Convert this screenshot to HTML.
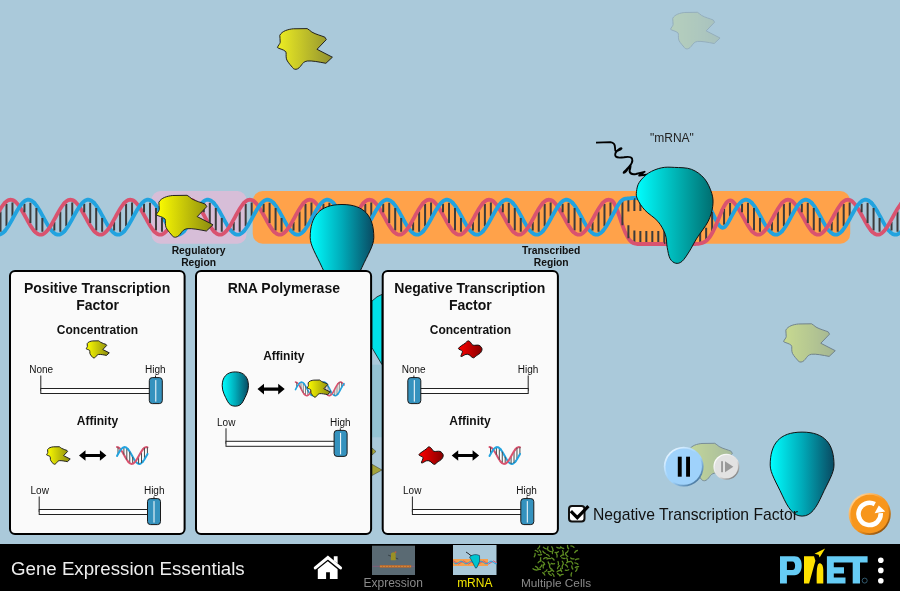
<!DOCTYPE html><html><head><meta charset="utf-8"><style>html,body{margin:0;padding:0;width:900px;height:591px;overflow:hidden;background:#aac9da}svg{display:block;will-change:transform}text{font-family:"Liberation Sans",sans-serif}</style></head><body>
<svg width="900" height="591" viewBox="0 0 900 591">
<defs>
<linearGradient id="gY" x1="0" y1="0" x2="1" y2="0"><stop offset="0" stop-color="#ffff00"/><stop offset="1" stop-color="#8a8a10"/></linearGradient>
<linearGradient id="gY2" x1="0" y1="0" x2="1" y2="0"><stop offset="0" stop-color="#f2f22a"/><stop offset="1" stop-color="#9c9c35"/></linearGradient>
<linearGradient id="gY3" x1="0" y1="0" x2="1" y2="0"><stop offset="0" stop-color="#eeee22"/><stop offset="1" stop-color="#909030"/></linearGradient>
<linearGradient id="gR" x1="0" y1="0" x2="1" y2="0"><stop offset="0" stop-color="#ff0000"/><stop offset="1" stop-color="#850000"/></linearGradient>
<linearGradient id="gP" x1="0" y1="0" x2="1" y2="0"><stop offset="0" stop-color="#00ffff"/><stop offset="0.5" stop-color="#00abb9"/><stop offset="1" stop-color="#094a62"/></linearGradient>
<linearGradient id="gPB" gradientUnits="userSpaceOnUse" x1="636" y1="0" x2="713" y2="0"><stop offset="0" stop-color="#00ffff"/><stop offset="1" stop-color="#006e70"/></linearGradient>
<radialGradient id="gPause" cx="0.42" cy="0.38" r="0.62"><stop offset="0.75" stop-color="#9fd2fb"/><stop offset="0.93" stop-color="#7fb2df"/><stop offset="1" stop-color="#4f7fa8"/></radialGradient>
<radialGradient id="gStep" cx="0.42" cy="0.38" r="0.62"><stop offset="0.72" stop-color="#e4e4e4"/><stop offset="0.92" stop-color="#c4c4c4"/><stop offset="1" stop-color="#8c8c8c"/></radialGradient>
<radialGradient id="gReset" cx="0.42" cy="0.38" r="0.62"><stop offset="0.74" stop-color="#f7961f"/><stop offset="0.93" stop-color="#e08515"/><stop offset="1" stop-color="#9c5c10"/></radialGradient>
<linearGradient id="rimReset" x1="0.15" y1="0.1" x2="0.85" y2="0.9"><stop offset="0" stop-color="#ffd39a"/><stop offset="0.45" stop-color="#f7961f"/><stop offset="0.6" stop-color="#f7961f"/><stop offset="1" stop-color="#8a500f"/></linearGradient>
<linearGradient id="rimPause" x1="0.15" y1="0.1" x2="0.85" y2="0.9"><stop offset="0" stop-color="#e8f5ff"/><stop offset="0.45" stop-color="#9fd2fb"/><stop offset="0.6" stop-color="#9fd2fb"/><stop offset="1" stop-color="#45739a"/></linearGradient>
<linearGradient id="rimStep" x1="0.15" y1="0.1" x2="0.85" y2="0.9"><stop offset="0" stop-color="#ffffff"/><stop offset="0.45" stop-color="#e2e2e2"/><stop offset="0.6" stop-color="#e2e2e2"/><stop offset="1" stop-color="#7c7c7c"/></linearGradient>
<filter id="bl" x="-10%" y="-10%" width="120%" height="120%"><feGaussianBlur stdDeviation="0.7"/></filter>
</defs>
<rect width="900" height="591" fill="#aac9da"/>
<path d="M2.8,6.8 C5,2.5 11,0.8 16.3,0.3 L30.2,0.1 C32,0.8 33,2.5 34.9,3.6 C39,6 44,7 47.9,8.7 L49.3,11.1 L40,20.8 L55.4,28.7 L48.9,34.8 C42,33.5 35,32 30.2,32.5 C27,33 25.5,35 24.7,36.2 C23,38.5 21.5,40.5 19,40.8 C17,40.8 16,40 15.5,39 C12,35 9.5,32 9.3,29.7 C8.8,27 9.5,24.5 8.8,23.2 C6,20.5 2,20.5 0.4,19 C1,17 3,15.5 3.2,13.8 C3.5,11 2.5,9 2.8,6.8 Z" transform="translate(670.20,12.20) scale(0.900)" fill="url(#gY2)" stroke="#222" stroke-width="1" vector-effect="non-scaling-stroke" opacity="0.16" />
<path d="M2.8,6.8 C5,2.5 11,0.8 16.3,0.3 L30.2,0.1 C32,0.8 33,2.5 34.9,3.6 C39,6 44,7 47.9,8.7 L49.3,11.1 L40,20.8 L55.4,28.7 L48.9,34.8 C42,33.5 35,32 30.2,32.5 C27,33 25.5,35 24.7,36.2 C23,38.5 21.5,40.5 19,40.8 C17,40.8 16,40 15.5,39 C12,35 9.5,32 9.3,29.7 C8.8,27 9.5,24.5 8.8,23.2 C6,20.5 2,20.5 0.4,19 C1,17 3,15.5 3.2,13.8 C3.5,11 2.5,9 2.8,6.8 Z" transform="translate(277.00,28.50) scale(1.000)" fill="url(#gY3)" stroke="#222" stroke-width="1" vector-effect="non-scaling-stroke" opacity="1.00" />
<rect x="151.5" y="191" width="95" height="52.7" rx="9" fill="#d7bed8"/>
<rect x="252.7" y="191" width="597.5" height="52.7" rx="10" fill="#ffa24a"/>
<g fill="none" stroke-width="3.8" stroke-linecap="round"><path d="M-5.00,233.53 L-4.00,234.10 L-3.00,234.48 L-2.00,234.68 L-1.00,234.68 L0.00,234.48 L1.00,234.10 L2.00,233.53 L3.00,232.78 L4.00,231.86 L4.60,231.23" stroke="#22a3df"/><path d="M4.60,203.17 L5.60,202.15 L6.60,201.30 L7.60,200.62 L8.60,200.12 L9.60,199.82 L10.60,199.70 L11.60,199.78 L12.60,200.05 L13.60,200.51 L14.60,201.15 L15.60,201.97 L16.60,202.96 L17.60,204.10 L18.60,205.39 L19.60,206.81 L20.60,208.34 L21.60,209.98 L22.60,211.69 L23.60,213.46 L24.60,215.27 L25.60,217.11 L26.60,218.94 L27.60,220.76 L28.60,222.54 L29.60,224.26 L30.60,225.90 L31.60,227.44 L32.60,228.87 L33.60,230.18 L34.50,231.23" stroke="#d9536f"/><path d="M34.50,203.17 L35.50,204.35 L36.50,205.66 L37.50,207.11 L38.50,208.66 L39.50,210.31 L40.50,212.04 L41.50,213.82 L42.50,215.64 L43.50,217.48 L44.50,219.31 L45.50,221.12 L46.50,222.89 L47.50,224.59 L48.50,226.21 L49.50,227.74 L50.50,229.14 L51.50,230.42 L52.50,231.55 L53.50,232.52 L54.50,233.32 L55.50,233.95 L56.50,234.39 L57.50,234.64 L58.50,234.70 L59.50,234.56 L60.50,234.23 L61.50,233.72 L62.50,233.02 L63.50,232.15 L64.40,231.23" stroke="#22a3df"/><path d="M64.40,203.17 L65.40,202.15 L66.40,201.30 L67.40,200.62 L68.40,200.12 L69.40,199.82 L70.40,199.70 L71.40,199.78 L72.40,200.05 L73.40,200.51 L74.40,201.15 L75.40,201.97 L76.40,202.96 L77.40,204.10 L78.40,205.39 L79.40,206.81 L80.40,208.34 L81.40,209.98 L82.40,211.69 L83.40,213.46 L84.40,215.27 L85.40,217.11 L86.40,218.94 L87.40,220.76 L88.40,222.54 L89.40,224.26 L90.40,225.90 L91.40,227.44 L92.40,228.87 L93.40,230.18 L94.30,231.23" stroke="#d9536f"/><path d="M94.30,203.17 L95.30,204.35 L96.30,205.66 L97.30,207.11 L98.30,208.66 L99.30,210.31 L100.30,212.04 L101.30,213.82 L102.30,215.64 L103.30,217.48 L104.30,219.31 L105.30,221.12 L106.30,222.89 L107.30,224.59 L108.30,226.21 L109.30,227.74 L110.30,229.14 L111.30,230.42 L112.30,231.55 L113.30,232.52 L114.30,233.32 L115.30,233.95 L116.30,234.39 L117.30,234.64 L118.30,234.70 L119.30,234.56 L120.30,234.23 L121.30,233.72 L122.30,233.02 L123.30,232.15 L124.20,231.23" stroke="#22a3df"/><path d="M124.20,203.17 L125.20,202.15 L126.20,201.30 L127.20,200.62 L128.20,200.12 L129.20,199.82 L130.20,199.70 L131.20,199.78 L132.20,200.05 L133.20,200.51 L134.20,201.15 L135.20,201.97 L136.20,202.96 L137.20,204.10 L138.20,205.39 L139.20,206.81 L140.20,208.34 L141.20,209.98 L142.20,211.69 L143.20,213.46 L144.20,215.27 L145.20,217.11 L146.20,218.94 L147.20,220.76 L148.20,222.54 L149.20,224.26 L150.20,225.90 L151.20,227.44 L152.20,228.87 L153.20,230.18 L154.10,231.23" stroke="#d9536f"/><path d="M154.10,203.17 L155.10,204.35 L156.10,205.66 L157.10,207.11 L158.10,208.66 L159.10,210.31 L160.10,212.04 L161.10,213.82 L162.10,215.64 L163.10,217.48 L164.10,219.31 L165.10,221.12 L166.10,222.89 L167.10,224.59 L168.10,226.21 L169.10,227.74 L170.10,229.14 L171.10,230.42 L172.10,231.55 L173.10,232.52 L174.10,233.32 L175.10,233.95 L176.10,234.39 L177.10,234.64 L178.10,234.70 L179.10,234.56 L180.10,234.23 L181.10,233.72 L182.10,233.02 L183.10,232.15 L184.00,231.23" stroke="#22a3df"/><path d="M184.00,203.17 L185.00,202.15 L186.00,201.30 L187.00,200.62 L188.00,200.12 L189.00,199.82 L190.00,199.70 L191.00,199.78 L192.00,200.05 L193.00,200.51 L194.00,201.15 L195.00,201.97 L196.00,202.96 L197.00,204.10 L198.00,205.39 L199.00,206.81 L200.00,208.34 L201.00,209.98 L202.00,211.69 L203.00,213.46 L204.00,215.27 L205.00,217.11 L206.00,218.94 L207.00,220.76 L208.00,222.54 L209.00,224.26 L210.00,225.90 L211.00,227.44 L212.00,228.87 L213.00,230.18 L213.90,231.23" stroke="#d9536f"/><path d="M213.90,203.17 L214.90,204.35 L215.90,205.66 L216.90,207.11 L217.90,208.66 L218.90,210.31 L219.90,212.04 L220.90,213.82 L221.90,215.64 L222.90,217.48 L223.90,219.31 L224.90,221.12 L225.90,222.89 L226.90,224.59 L227.90,226.21 L228.90,227.74 L229.90,229.14 L230.90,230.42 L231.90,231.55 L232.90,232.52 L233.90,233.32 L234.90,233.95 L235.90,234.39 L236.90,234.64 L237.90,234.70 L238.90,234.56 L239.90,234.23 L240.90,233.72 L241.90,233.02 L242.90,232.15 L243.80,231.23" stroke="#22a3df"/><path d="M243.80,203.17 L244.80,202.15 L245.80,201.30 L246.80,200.62 L247.80,200.12 L248.80,199.82 L249.80,199.70 L250.80,199.78 L251.80,200.05 L252.80,200.51 L253.80,201.15 L254.80,201.97 L255.80,202.96 L256.80,204.10 L257.80,205.39 L258.80,206.81 L259.80,208.34 L260.80,209.98 L261.80,211.69 L262.80,213.46 L263.80,215.27 L264.80,217.11 L265.80,218.94 L266.80,220.76 L267.80,222.54 L268.80,224.26 L269.80,225.90 L270.80,227.44 L271.80,228.87 L272.80,230.18 L273.70,231.23" stroke="#d9536f"/><path d="M273.70,203.17 L274.70,204.35 L275.70,205.66 L276.70,207.11 L277.70,208.66 L278.70,210.31 L279.70,212.04 L280.70,213.82 L281.70,215.64 L282.70,217.48 L283.70,219.31 L284.70,221.12 L285.70,222.89 L286.70,224.59 L287.70,226.21 L288.70,227.74 L289.70,229.14 L290.70,230.42 L291.70,231.55 L292.70,232.52 L293.70,233.32 L294.70,233.95 L295.70,234.39 L296.70,234.64 L297.70,234.70 L298.70,234.56 L299.70,234.23 L300.70,233.72 L301.70,233.02 L302.70,232.15 L303.60,231.23" stroke="#22a3df"/><path d="M303.60,203.17 L304.60,202.15 L305.60,201.30 L306.60,200.62 L307.60,200.12 L308.60,199.82 L309.60,199.70 L310.60,199.78 L311.60,200.05 L312.60,200.51 L313.60,201.15 L314.60,201.97 L315.60,202.96 L316.60,204.10 L317.60,205.39 L318.60,206.81 L319.60,208.34 L320.60,209.98 L321.60,211.69 L322.60,213.46 L323.60,215.27 L324.60,217.11 L325.60,218.94 L326.60,220.76 L327.60,222.54 L328.60,224.26 L329.60,225.90 L330.60,227.44 L331.60,228.87 L332.60,230.18 L333.50,231.23" stroke="#d9536f"/><path d="M333.50,203.17 L334.50,204.35 L335.50,205.66 L336.50,207.11 L337.50,208.66 L338.50,210.31 L339.50,212.04 L340.50,213.82 L341.50,215.64 L342.50,217.48 L343.50,219.31 L344.50,221.12 L345.50,222.89 L346.50,224.59 L347.50,226.21 L348.50,227.74 L349.50,229.14 L350.50,230.42 L351.50,231.55 L352.50,232.52 L353.50,233.32 L354.50,233.95 L355.50,234.39 L356.50,234.64 L357.50,234.70 L358.50,234.56 L359.50,234.23 L360.50,233.72 L361.50,233.02 L362.50,232.15 L363.40,231.23" stroke="#22a3df"/><path d="M363.40,203.17 L364.40,202.15 L365.40,201.30 L366.40,200.62 L367.40,200.12 L368.40,199.82 L369.40,199.70 L370.40,199.78 L371.40,200.05 L372.40,200.51 L373.40,201.15 L374.40,201.97 L375.40,202.96 L376.40,204.10 L377.40,205.39 L378.40,206.81 L379.40,208.34 L380.40,209.98 L381.40,211.69 L382.40,213.46 L383.40,215.27 L384.40,217.11 L385.40,218.94 L386.40,220.76 L387.40,222.54 L388.40,224.26 L389.40,225.90 L390.40,227.44 L391.40,228.87 L392.40,230.18 L393.30,231.23" stroke="#d9536f"/><path d="M393.30,203.17 L394.30,204.35 L395.30,205.66 L396.30,207.11 L397.30,208.66 L398.30,210.31 L399.30,212.04 L400.30,213.82 L401.30,215.64 L402.30,217.48 L403.30,219.31 L404.30,221.12 L405.30,222.89 L406.30,224.59 L407.30,226.21 L408.30,227.74 L409.30,229.14 L410.30,230.42 L411.30,231.55 L412.30,232.52 L413.30,233.32 L414.30,233.95 L415.30,234.39 L416.30,234.64 L417.30,234.70 L418.30,234.56 L419.30,234.23 L420.30,233.72 L421.30,233.02 L422.30,232.15 L423.20,231.23" stroke="#22a3df"/><path d="M423.20,203.17 L424.20,202.15 L425.20,201.30 L426.20,200.62 L427.20,200.12 L428.20,199.82 L429.20,199.70 L430.20,199.78 L431.20,200.05 L432.20,200.51 L433.20,201.15 L434.20,201.97 L435.20,202.96 L436.20,204.10 L437.20,205.39 L438.20,206.81 L439.20,208.34 L440.20,209.98 L441.20,211.69 L442.20,213.46 L443.20,215.27 L444.20,217.11 L445.20,218.94 L446.20,220.76 L447.20,222.54 L448.20,224.26 L449.20,225.90 L450.20,227.44 L451.20,228.87 L452.20,230.18 L453.10,231.23" stroke="#d9536f"/><path d="M453.10,203.17 L454.10,204.35 L455.10,205.66 L456.10,207.11 L457.10,208.66 L458.10,210.31 L459.10,212.04 L460.10,213.82 L461.10,215.64 L462.10,217.48 L463.10,219.31 L464.10,221.12 L465.10,222.89 L466.10,224.59 L467.10,226.21 L468.10,227.74 L469.10,229.14 L470.10,230.42 L471.10,231.55 L472.10,232.52 L473.10,233.32 L474.10,233.95 L475.10,234.39 L476.10,234.64 L477.10,234.70 L478.10,234.56 L479.10,234.23 L480.10,233.72 L481.10,233.02 L482.10,232.15 L483.00,231.23" stroke="#22a3df"/><path d="M483.00,203.17 L484.00,202.15 L485.00,201.30 L486.00,200.62 L487.00,200.12 L488.00,199.82 L489.00,199.70 L490.00,199.78 L491.00,200.05 L492.00,200.51 L493.00,201.15 L494.00,201.97 L495.00,202.96 L496.00,204.10 L497.00,205.39 L498.00,206.81 L499.00,208.34 L500.00,209.98 L501.00,211.69 L502.00,213.46 L503.00,215.27 L504.00,217.11 L505.00,218.94 L506.00,220.76 L507.00,222.54 L508.00,224.26 L509.00,225.90 L510.00,227.44 L511.00,228.87 L512.00,230.18 L512.90,231.23" stroke="#d9536f"/><path d="M512.90,203.17 L513.90,204.35 L514.90,205.66 L515.90,207.11 L516.90,208.66 L517.90,210.31 L518.90,212.04 L519.90,213.82 L520.90,215.64 L521.90,217.48 L522.90,219.31 L523.90,221.12 L524.90,222.89 L525.90,224.59 L526.90,226.21 L527.90,227.74 L528.90,229.14 L529.90,230.42 L530.90,231.55 L531.90,232.52 L532.90,233.32 L533.90,233.95 L534.90,234.39 L535.90,234.64 L536.90,234.70 L537.90,234.56 L538.90,234.23 L539.90,233.72 L540.90,233.02 L541.90,232.15 L542.80,231.23" stroke="#22a3df"/><path d="M542.80,203.17 L543.80,202.15 L544.80,201.30 L545.80,200.62 L546.80,200.12 L547.80,199.82 L548.80,199.70 L549.80,199.78 L550.80,200.05 L551.80,200.51 L552.80,201.15 L553.80,201.97 L554.80,202.96 L555.80,204.10 L556.80,205.39 L557.80,206.81 L558.80,208.34 L559.80,209.98 L560.80,211.69 L561.80,213.46 L562.80,215.27 L563.80,217.11 L564.80,218.94 L565.80,220.76 L566.80,222.54 L567.80,224.26 L568.80,225.90 L569.80,227.44 L570.80,228.87 L571.80,230.18 L572.70,231.23" stroke="#d9536f"/><path d="M572.70,203.17 L573.70,204.35 L574.70,205.66 L575.70,207.11 L576.70,208.66 L577.70,210.31 L578.70,212.04 L579.70,213.82 L580.70,215.64 L581.70,217.48 L582.70,219.31 L583.70,221.12 L584.70,222.89 L585.70,224.59 L586.70,226.21 L587.70,227.74 L588.70,229.14 L589.70,230.42 L590.70,231.55 L591.70,232.52 L592.70,233.32 L593.70,233.95 L594.70,234.39 L595.70,234.64 L596.70,234.70 L597.70,234.56 L598.70,234.23 L599.70,233.72 L600.70,233.02 L601.70,232.15 L602.60,231.23" stroke="#22a3df"/><path d="M602.60,203.17 L603.60,202.15 L604.60,201.30 L605.60,200.62 L606.60,200.12 L607.60,199.82 L608.60,199.70 L609.60,199.78 L610.60,200.05 L611.60,200.51 L612.60,201.22 L613.60,202.43 L614.60,204.11 L615.60,206.18 L616.60,208.59 L617.60,211.24 L618.60,214.07 L619.60,217.00 L620.60,219.95 L621.60,222.88 L622.60,225.70 L623.60,228.39 L624.60,230.89 L625.60,233.18 L626.60,235.24 L627.60,237.05 L628.60,238.61 L629.60,239.93 L630.60,241.02 L631.60,241.90 L632.50,242.53" stroke="#d9536f"/><path d="M632.50,198.08 L633.50,198.01 L634.50,198.00 L635.50,198.00 L636.50,198.00 L637.50,198.00 L638.50,198.00 L639.50,198.00 L640.50,198.00 L641.50,198.00 L642.50,198.00 L643.50,198.00 L644.50,198.00 L645.50,198.00 L646.50,198.00 L647.50,198.00 L648.50,198.00 L649.50,198.00 L650.50,198.00 L651.50,198.00 L652.50,198.00 L653.50,198.00 L654.50,198.00 L655.50,198.00 L656.50,198.00 L657.50,198.00 L658.50,198.00 L659.50,198.00 L660.50,198.00 L661.50,198.00 L662.40,198.00" stroke="#22a3df"/><path d="M662.40,244.00 L663.40,244.00 L664.40,244.00 L665.40,244.00 L666.40,244.00 L667.40,244.00 L668.40,244.00 L669.40,244.00 L670.40,244.00 L671.40,244.00 L672.40,244.00 L673.40,244.00 L674.40,244.00 L675.40,244.00 L676.40,244.00 L677.40,244.00 L678.40,244.00 L679.40,244.00 L680.40,244.00 L681.40,244.00 L682.40,244.00 L683.40,244.00 L684.40,244.00 L685.40,244.00 L686.40,244.00 L687.40,244.00 L688.40,244.00 L689.40,244.00 L690.40,244.00 L691.40,244.00 L692.30,244.00" stroke="#d9536f"/><path d="M692.30,198.00 L693.30,198.00 L694.30,198.00 L695.30,198.00 L696.30,198.00 L697.30,198.00 L698.30,198.00 L699.30,198.00 L700.30,198.01 L701.30,198.12 L702.30,198.41 L703.30,198.89 L704.30,199.58 L705.30,200.50 L706.30,201.64 L707.30,203.01 L708.30,204.59 L709.30,206.35 L710.30,208.28 L711.30,210.33 L712.30,212.46 L713.30,214.63 L714.30,216.78 L715.30,218.86 L716.30,220.83 L717.30,222.62 L718.30,224.20 L719.30,225.52 L720.30,226.53 L721.30,227.22 L722.20,227.54" stroke="#22a3df"/><path d="M722.20,210.25 L723.20,208.13 L724.20,206.19 L725.20,204.48 L726.20,203.02 L727.20,201.85 L728.20,201.01 L729.20,200.50 L730.20,200.35 L731.20,200.57 L732.20,201.15 L733.20,201.97 L734.20,202.96 L735.20,204.10 L736.20,205.39 L737.20,206.81 L738.20,208.34 L739.20,209.98 L740.20,211.69 L741.20,213.46 L742.20,215.27 L743.20,217.11 L744.20,218.94 L745.20,220.76 L746.20,222.54 L747.20,224.26 L748.20,225.90 L749.20,227.44 L750.20,228.87 L751.20,230.18 L752.10,231.23" stroke="#d9536f"/><path d="M752.10,203.17 L753.10,204.35 L754.10,205.66 L755.10,207.11 L756.10,208.66 L757.10,210.31 L758.10,212.04 L759.10,213.82 L760.10,215.64 L761.10,217.48 L762.10,219.31 L763.10,221.12 L764.10,222.89 L765.10,224.59 L766.10,226.21 L767.10,227.74 L768.10,229.14 L769.10,230.42 L770.10,231.55 L771.10,232.52 L772.10,233.32 L773.10,233.95 L774.10,234.39 L775.10,234.64 L776.10,234.70 L777.10,234.56 L778.10,234.23 L779.10,233.72 L780.10,233.02 L781.10,232.15 L782.00,231.23" stroke="#22a3df"/><path d="M782.00,203.17 L783.00,202.15 L784.00,201.30 L785.00,200.62 L786.00,200.12 L787.00,199.82 L788.00,199.70 L789.00,199.78 L790.00,200.05 L791.00,200.51 L792.00,201.15 L793.00,201.97 L794.00,202.96 L795.00,204.10 L796.00,205.39 L797.00,206.81 L798.00,208.34 L799.00,209.98 L800.00,211.69 L801.00,213.46 L802.00,215.27 L803.00,217.11 L804.00,218.94 L805.00,220.76 L806.00,222.54 L807.00,224.26 L808.00,225.90 L809.00,227.44 L810.00,228.87 L811.00,230.18 L811.90,231.23" stroke="#d9536f"/><path d="M811.90,203.17 L812.90,204.35 L813.90,205.66 L814.90,207.11 L815.90,208.66 L816.90,210.31 L817.90,212.04 L818.90,213.82 L819.90,215.64 L820.90,217.48 L821.90,219.31 L822.90,221.12 L823.90,222.89 L824.90,224.59 L825.90,226.21 L826.90,227.74 L827.90,229.14 L828.90,230.42 L829.90,231.55 L830.90,232.52 L831.90,233.32 L832.90,233.95 L833.90,234.39 L834.90,234.64 L835.90,234.70 L836.90,234.56 L837.90,234.23 L838.90,233.72 L839.90,233.02 L840.90,232.15 L841.80,231.23" stroke="#22a3df"/><path d="M841.80,203.17 L842.80,202.15 L843.80,201.30 L844.80,200.62 L845.80,200.12 L846.80,199.82 L847.80,199.70 L848.80,199.78 L849.80,200.05 L850.80,200.51 L851.80,201.15 L852.80,201.97 L853.80,202.96 L854.80,204.10 L855.80,205.39 L856.80,206.81 L857.80,208.34 L858.80,209.98 L859.80,211.69 L860.80,213.46 L861.80,215.27 L862.80,217.11 L863.80,218.94 L864.80,220.76 L865.80,222.54 L866.80,224.26 L867.80,225.90 L868.80,227.44 L869.80,228.87 L870.80,230.18 L871.70,231.23" stroke="#d9536f"/><path d="M871.70,203.17 L872.70,204.35 L873.70,205.66 L874.70,207.11 L875.70,208.66 L876.70,210.31 L877.70,212.04 L878.70,213.82 L879.70,215.64 L880.70,217.48 L881.70,219.31 L882.70,221.12 L883.70,222.89 L884.70,224.59 L885.70,226.21 L886.70,227.74 L887.70,229.14 L888.70,230.42 L889.70,231.55 L890.70,232.52 L891.70,233.32 L892.70,233.95 L893.70,234.39 L894.70,234.64 L895.70,234.70 L896.70,234.56 L897.70,234.23 L898.70,233.72 L899.70,233.02 L900.70,232.15 L901.60,231.23" stroke="#22a3df"/><path d="M901.60,203.17 L902.60,202.15 L903.60,201.30 L904.60,200.62 L905.00,200.40" stroke="#d9536f"/></g><path d="M0.50,211.42V231.72M6.48,203.99V226.30M12.46,202.60V216.42M24.42,203.81V212.34M30.40,202.68V222.98M36.38,208.10V230.41M42.36,217.98V231.80M54.32,222.06V230.59M60.30,211.42V231.72M66.28,203.99V226.30M72.26,202.60V216.42M84.22,203.81V212.34M90.20,202.68V222.98M96.18,208.10V230.41M102.16,217.98V231.80M114.12,222.06V230.59M120.10,211.42V231.72M126.08,203.99V226.30M132.06,202.60V216.42M144.02,203.81V212.34M150.00,202.68V222.98M155.98,208.10V230.41M161.96,217.98V231.80M173.92,222.06V230.59M179.90,211.42V231.72M185.88,203.99V226.30M191.86,202.60V216.42M203.82,203.81V212.34M209.80,202.68V222.98M215.78,208.10V230.41M221.76,217.98V231.80M233.72,222.06V230.59M239.70,211.42V231.72M245.68,203.99V226.30M251.66,202.60V216.42M263.62,203.81V212.34M269.60,202.68V222.98M275.58,208.10V230.41M281.56,217.98V231.80M293.52,222.06V230.59M299.50,211.42V231.72M305.48,203.99V226.30M311.46,202.60V216.42M323.42,203.81V212.34M329.40,202.68V222.98M335.38,208.10V230.41M341.36,217.98V231.80M353.32,222.06V230.59M359.30,211.42V231.72M365.28,203.99V226.30M371.26,202.60V216.42M383.22,203.81V212.34M389.20,202.68V222.98M395.18,208.10V230.41M401.16,217.98V231.80M413.12,222.06V230.59M419.10,211.42V231.72M425.08,203.99V226.30M431.06,202.60V216.42M443.02,203.81V212.34M449.00,202.68V222.98M454.98,208.10V230.41M460.96,217.98V231.80M472.92,222.06V230.59M478.90,211.42V231.72M484.88,203.99V226.30M490.86,202.60V216.42M502.82,203.81V212.34M508.80,202.68V222.98M514.78,208.10V230.41M520.76,217.98V231.80M532.72,222.06V230.59M538.70,211.42V231.72M544.68,203.99V226.30M550.66,202.60V216.42M562.62,203.81V212.34M568.60,202.68V222.98M574.58,208.10V230.41M580.56,217.98V231.80M592.52,222.06V230.59M598.50,211.42V231.72M604.48,203.99V226.30M610.46,202.60V216.42M622.42,199.98V212.98M622.42,225.20V212.20M628.40,198.40V211.40M628.40,238.32V225.32M634.38,198.00V211.00M634.38,243.42V230.42M640.36,198.00V211.00M640.36,244.00V231.00M646.34,198.00V211.00M646.34,244.00V231.00M652.32,198.00V211.00M652.32,244.00V231.00M658.30,198.00V211.00M658.30,244.00V231.00M664.28,198.00V211.00M664.28,244.00V231.00M670.26,198.00V211.00M670.26,244.00V231.00M676.24,198.00V211.00M676.24,244.00V231.00M682.22,198.00V211.00M682.22,244.00V231.00M688.20,198.00V211.00M688.20,244.00V231.00M694.18,198.00V211.00M694.18,244.00V231.00M700.16,198.00V211.00M700.16,243.49V230.49M706.14,201.44V214.44M706.14,240.79V227.79M712.12,212.07V225.07M712.12,233.10V220.10M724.08,209.01V224.65M730.06,202.95V216.42M742.02,203.81V212.34M748.00,202.68V222.98M753.98,208.10V230.41M759.96,217.98V231.80M771.92,222.06V230.59M777.90,211.42V231.72M783.88,203.99V226.30M789.86,202.60V216.42M801.82,203.81V212.34M807.80,202.68V222.98M813.78,208.10V230.41M819.76,217.98V231.80M831.72,222.06V230.59M837.70,211.42V231.72M843.68,203.99V226.30M849.66,202.60V216.42M861.62,203.81V212.34M867.60,202.68V222.98M873.58,208.10V230.41M879.56,217.98V231.80M891.52,222.06V230.59M897.50,211.42V231.72M903.48,203.99V226.30" stroke="#3b3b3b" stroke-width="2.0" fill="none"/><g fill="none" stroke-width="3.8" stroke-linecap="round"><path d="M-5.00,218.58 L-4.00,216.74 L-3.00,214.91 L-2.00,213.10 L-1.00,211.34 L0.00,209.64 L1.00,208.03 L2.00,206.52 L3.00,205.12 L4.00,203.86 L4.60,203.17" stroke="#d9536f"/><path d="M4.60,231.23 L5.60,230.05 L6.60,228.74 L7.60,227.29 L8.60,225.74 L9.60,224.09 L10.60,222.36 L11.60,220.58 L12.60,218.76 L13.60,216.92 L14.60,215.09 L15.60,213.28 L16.60,211.51 L17.60,209.81 L18.60,208.19 L19.60,206.66 L20.60,205.26 L21.60,203.98 L22.60,202.85 L23.60,201.88 L24.60,201.08 L25.60,200.45 L26.60,200.01 L27.60,199.76 L28.60,199.70 L29.60,199.84 L30.60,200.17 L31.60,200.68 L32.60,201.38 L33.60,202.25 L34.50,203.17" stroke="#22a3df"/><path d="M34.50,231.23 L35.50,232.25 L36.50,233.10 L37.50,233.78 L38.50,234.28 L39.50,234.58 L40.50,234.70 L41.50,234.62 L42.50,234.35 L43.50,233.89 L44.50,233.25 L45.50,232.43 L46.50,231.44 L47.50,230.30 L48.50,229.01 L49.50,227.59 L50.50,226.06 L51.50,224.42 L52.50,222.71 L53.50,220.94 L54.50,219.13 L55.50,217.29 L56.50,215.46 L57.50,213.64 L58.50,211.86 L59.50,210.14 L60.50,208.50 L61.50,206.96 L62.50,205.53 L63.50,204.22 L64.40,203.17" stroke="#d9536f"/><path d="M64.40,231.23 L65.40,230.05 L66.40,228.74 L67.40,227.29 L68.40,225.74 L69.40,224.09 L70.40,222.36 L71.40,220.58 L72.40,218.76 L73.40,216.92 L74.40,215.09 L75.40,213.28 L76.40,211.51 L77.40,209.81 L78.40,208.19 L79.40,206.66 L80.40,205.26 L81.40,203.98 L82.40,202.85 L83.40,201.88 L84.40,201.08 L85.40,200.45 L86.40,200.01 L87.40,199.76 L88.40,199.70 L89.40,199.84 L90.40,200.17 L91.40,200.68 L92.40,201.38 L93.40,202.25 L94.30,203.17" stroke="#22a3df"/><path d="M94.30,231.23 L95.30,232.25 L96.30,233.10 L97.30,233.78 L98.30,234.28 L99.30,234.58 L100.30,234.70 L101.30,234.62 L102.30,234.35 L103.30,233.89 L104.30,233.25 L105.30,232.43 L106.30,231.44 L107.30,230.30 L108.30,229.01 L109.30,227.59 L110.30,226.06 L111.30,224.42 L112.30,222.71 L113.30,220.94 L114.30,219.13 L115.30,217.29 L116.30,215.46 L117.30,213.64 L118.30,211.86 L119.30,210.14 L120.30,208.50 L121.30,206.96 L122.30,205.53 L123.30,204.22 L124.20,203.17" stroke="#d9536f"/><path d="M124.20,231.23 L125.20,230.05 L126.20,228.74 L127.20,227.29 L128.20,225.74 L129.20,224.09 L130.20,222.36 L131.20,220.58 L132.20,218.76 L133.20,216.92 L134.20,215.09 L135.20,213.28 L136.20,211.51 L137.20,209.81 L138.20,208.19 L139.20,206.66 L140.20,205.26 L141.20,203.98 L142.20,202.85 L143.20,201.88 L144.20,201.08 L145.20,200.45 L146.20,200.01 L147.20,199.76 L148.20,199.70 L149.20,199.84 L150.20,200.17 L151.20,200.68 L152.20,201.38 L153.20,202.25 L154.10,203.17" stroke="#22a3df"/><path d="M154.10,231.23 L155.10,232.25 L156.10,233.10 L157.10,233.78 L158.10,234.28 L159.10,234.58 L160.10,234.70 L161.10,234.62 L162.10,234.35 L163.10,233.89 L164.10,233.25 L165.10,232.43 L166.10,231.44 L167.10,230.30 L168.10,229.01 L169.10,227.59 L170.10,226.06 L171.10,224.42 L172.10,222.71 L173.10,220.94 L174.10,219.13 L175.10,217.29 L176.10,215.46 L177.10,213.64 L178.10,211.86 L179.10,210.14 L180.10,208.50 L181.10,206.96 L182.10,205.53 L183.10,204.22 L184.00,203.17" stroke="#d9536f"/><path d="M184.00,231.23 L185.00,230.05 L186.00,228.74 L187.00,227.29 L188.00,225.74 L189.00,224.09 L190.00,222.36 L191.00,220.58 L192.00,218.76 L193.00,216.92 L194.00,215.09 L195.00,213.28 L196.00,211.51 L197.00,209.81 L198.00,208.19 L199.00,206.66 L200.00,205.26 L201.00,203.98 L202.00,202.85 L203.00,201.88 L204.00,201.08 L205.00,200.45 L206.00,200.01 L207.00,199.76 L208.00,199.70 L209.00,199.84 L210.00,200.17 L211.00,200.68 L212.00,201.38 L213.00,202.25 L213.90,203.17" stroke="#22a3df"/><path d="M213.90,231.23 L214.90,232.25 L215.90,233.10 L216.90,233.78 L217.90,234.28 L218.90,234.58 L219.90,234.70 L220.90,234.62 L221.90,234.35 L222.90,233.89 L223.90,233.25 L224.90,232.43 L225.90,231.44 L226.90,230.30 L227.90,229.01 L228.90,227.59 L229.90,226.06 L230.90,224.42 L231.90,222.71 L232.90,220.94 L233.90,219.13 L234.90,217.29 L235.90,215.46 L236.90,213.64 L237.90,211.86 L238.90,210.14 L239.90,208.50 L240.90,206.96 L241.90,205.53 L242.90,204.22 L243.80,203.17" stroke="#d9536f"/><path d="M243.80,231.23 L244.80,230.05 L245.80,228.74 L246.80,227.29 L247.80,225.74 L248.80,224.09 L249.80,222.36 L250.80,220.58 L251.80,218.76 L252.80,216.92 L253.80,215.09 L254.80,213.28 L255.80,211.51 L256.80,209.81 L257.80,208.19 L258.80,206.66 L259.80,205.26 L260.80,203.98 L261.80,202.85 L262.80,201.88 L263.80,201.08 L264.80,200.45 L265.80,200.01 L266.80,199.76 L267.80,199.70 L268.80,199.84 L269.80,200.17 L270.80,200.68 L271.80,201.38 L272.80,202.25 L273.70,203.17" stroke="#22a3df"/><path d="M273.70,231.23 L274.70,232.25 L275.70,233.10 L276.70,233.78 L277.70,234.28 L278.70,234.58 L279.70,234.70 L280.70,234.62 L281.70,234.35 L282.70,233.89 L283.70,233.25 L284.70,232.43 L285.70,231.44 L286.70,230.30 L287.70,229.01 L288.70,227.59 L289.70,226.06 L290.70,224.42 L291.70,222.71 L292.70,220.94 L293.70,219.13 L294.70,217.29 L295.70,215.46 L296.70,213.64 L297.70,211.86 L298.70,210.14 L299.70,208.50 L300.70,206.96 L301.70,205.53 L302.70,204.22 L303.60,203.17" stroke="#d9536f"/><path d="M303.60,231.23 L304.60,230.05 L305.60,228.74 L306.60,227.29 L307.60,225.74 L308.60,224.09 L309.60,222.36 L310.60,220.58 L311.60,218.76 L312.60,216.92 L313.60,215.09 L314.60,213.28 L315.60,211.51 L316.60,209.81 L317.60,208.19 L318.60,206.66 L319.60,205.26 L320.60,203.98 L321.60,202.85 L322.60,201.88 L323.60,201.08 L324.60,200.45 L325.60,200.01 L326.60,199.76 L327.60,199.70 L328.60,199.84 L329.60,200.17 L330.60,200.68 L331.60,201.38 L332.60,202.25 L333.50,203.17" stroke="#22a3df"/><path d="M333.50,231.23 L334.50,232.25 L335.50,233.10 L336.50,233.78 L337.50,234.28 L338.50,234.58 L339.50,234.70 L340.50,234.62 L341.50,234.35 L342.50,233.89 L343.50,233.25 L344.50,232.43 L345.50,231.44 L346.50,230.30 L347.50,229.01 L348.50,227.59 L349.50,226.06 L350.50,224.42 L351.50,222.71 L352.50,220.94 L353.50,219.13 L354.50,217.29 L355.50,215.46 L356.50,213.64 L357.50,211.86 L358.50,210.14 L359.50,208.50 L360.50,206.96 L361.50,205.53 L362.50,204.22 L363.40,203.17" stroke="#d9536f"/><path d="M363.40,231.23 L364.40,230.05 L365.40,228.74 L366.40,227.29 L367.40,225.74 L368.40,224.09 L369.40,222.36 L370.40,220.58 L371.40,218.76 L372.40,216.92 L373.40,215.09 L374.40,213.28 L375.40,211.51 L376.40,209.81 L377.40,208.19 L378.40,206.66 L379.40,205.26 L380.40,203.98 L381.40,202.85 L382.40,201.88 L383.40,201.08 L384.40,200.45 L385.40,200.01 L386.40,199.76 L387.40,199.70 L388.40,199.84 L389.40,200.17 L390.40,200.68 L391.40,201.38 L392.40,202.25 L393.30,203.17" stroke="#22a3df"/><path d="M393.30,231.23 L394.30,232.25 L395.30,233.10 L396.30,233.78 L397.30,234.28 L398.30,234.58 L399.30,234.70 L400.30,234.62 L401.30,234.35 L402.30,233.89 L403.30,233.25 L404.30,232.43 L405.30,231.44 L406.30,230.30 L407.30,229.01 L408.30,227.59 L409.30,226.06 L410.30,224.42 L411.30,222.71 L412.30,220.94 L413.30,219.13 L414.30,217.29 L415.30,215.46 L416.30,213.64 L417.30,211.86 L418.30,210.14 L419.30,208.50 L420.30,206.96 L421.30,205.53 L422.30,204.22 L423.20,203.17" stroke="#d9536f"/><path d="M423.20,231.23 L424.20,230.05 L425.20,228.74 L426.20,227.29 L427.20,225.74 L428.20,224.09 L429.20,222.36 L430.20,220.58 L431.20,218.76 L432.20,216.92 L433.20,215.09 L434.20,213.28 L435.20,211.51 L436.20,209.81 L437.20,208.19 L438.20,206.66 L439.20,205.26 L440.20,203.98 L441.20,202.85 L442.20,201.88 L443.20,201.08 L444.20,200.45 L445.20,200.01 L446.20,199.76 L447.20,199.70 L448.20,199.84 L449.20,200.17 L450.20,200.68 L451.20,201.38 L452.20,202.25 L453.10,203.17" stroke="#22a3df"/><path d="M453.10,231.23 L454.10,232.25 L455.10,233.10 L456.10,233.78 L457.10,234.28 L458.10,234.58 L459.10,234.70 L460.10,234.62 L461.10,234.35 L462.10,233.89 L463.10,233.25 L464.10,232.43 L465.10,231.44 L466.10,230.30 L467.10,229.01 L468.10,227.59 L469.10,226.06 L470.10,224.42 L471.10,222.71 L472.10,220.94 L473.10,219.13 L474.10,217.29 L475.10,215.46 L476.10,213.64 L477.10,211.86 L478.10,210.14 L479.10,208.50 L480.10,206.96 L481.10,205.53 L482.10,204.22 L483.00,203.17" stroke="#d9536f"/><path d="M483.00,231.23 L484.00,230.05 L485.00,228.74 L486.00,227.29 L487.00,225.74 L488.00,224.09 L489.00,222.36 L490.00,220.58 L491.00,218.76 L492.00,216.92 L493.00,215.09 L494.00,213.28 L495.00,211.51 L496.00,209.81 L497.00,208.19 L498.00,206.66 L499.00,205.26 L500.00,203.98 L501.00,202.85 L502.00,201.88 L503.00,201.08 L504.00,200.45 L505.00,200.01 L506.00,199.76 L507.00,199.70 L508.00,199.84 L509.00,200.17 L510.00,200.68 L511.00,201.38 L512.00,202.25 L512.90,203.17" stroke="#22a3df"/><path d="M512.90,231.23 L513.90,232.25 L514.90,233.10 L515.90,233.78 L516.90,234.28 L517.90,234.58 L518.90,234.70 L519.90,234.62 L520.90,234.35 L521.90,233.89 L522.90,233.25 L523.90,232.43 L524.90,231.44 L525.90,230.30 L526.90,229.01 L527.90,227.59 L528.90,226.06 L529.90,224.42 L530.90,222.71 L531.90,220.94 L532.90,219.13 L533.90,217.29 L534.90,215.46 L535.90,213.64 L536.90,211.86 L537.90,210.14 L538.90,208.50 L539.90,206.96 L540.90,205.53 L541.90,204.22 L542.80,203.17" stroke="#d9536f"/><path d="M542.80,231.23 L543.80,230.05 L544.80,228.74 L545.80,227.29 L546.80,225.74 L547.80,224.09 L548.80,222.36 L549.80,220.58 L550.80,218.76 L551.80,216.92 L552.80,215.09 L553.80,213.28 L554.80,211.51 L555.80,209.81 L556.80,208.19 L557.80,206.66 L558.80,205.26 L559.80,203.98 L560.80,202.85 L561.80,201.88 L562.80,201.08 L563.80,200.45 L564.80,200.01 L565.80,199.76 L566.80,199.70 L567.80,199.84 L568.80,200.17 L569.80,200.68 L570.80,201.38 L571.80,202.25 L572.70,203.17" stroke="#22a3df"/><path d="M572.70,231.23 L573.70,232.25 L574.70,233.10 L575.70,233.78 L576.70,234.28 L577.70,234.58 L578.70,234.70 L579.70,234.62 L580.70,234.35 L581.70,233.89 L582.70,233.25 L583.70,232.43 L584.70,231.44 L585.70,230.30 L586.70,229.01 L587.70,227.59 L588.70,226.06 L589.70,224.42 L590.70,222.71 L591.70,220.94 L592.70,219.13 L593.70,217.29 L594.70,215.46 L595.70,213.64 L596.70,211.86 L597.70,210.14 L598.70,208.50 L599.70,206.96 L600.70,205.53 L601.70,204.22 L602.60,203.17" stroke="#d9536f"/><path d="M602.60,231.23 L603.60,230.05 L604.60,228.74 L605.60,227.29 L606.60,225.74 L607.60,224.09 L608.60,222.36 L609.60,220.58 L610.60,218.76 L611.60,216.92 L612.60,215.09 L613.60,213.28 L614.60,211.48 L615.60,209.59 L616.60,207.71 L617.60,205.92 L618.60,204.28 L619.60,202.84 L620.60,201.61 L621.60,200.62 L622.60,199.86 L623.60,199.30 L624.60,198.92 L625.60,198.67 L626.60,198.53 L627.60,198.44 L628.60,198.39 L629.60,198.33 L630.60,198.26 L631.60,198.17 L632.50,198.08" stroke="#22a3df"/><path d="M632.50,242.53 L633.50,243.07 L634.50,243.46 L635.50,243.73 L636.50,243.91 L637.50,243.99 L638.50,244.00 L639.50,244.00 L640.50,244.00 L641.50,244.00 L642.50,244.00 L643.50,244.00 L644.50,244.00 L645.50,244.00 L646.50,244.00 L647.50,244.00 L648.50,244.00 L649.50,244.00 L650.50,244.00 L651.50,244.00 L652.50,244.00 L653.50,244.00 L654.50,244.00 L655.50,244.00 L656.50,244.00 L657.50,244.00 L658.50,244.00 L659.50,244.00 L660.50,244.00 L661.50,244.00 L662.40,244.00" stroke="#d9536f"/><path d="M662.40,198.00 L663.40,198.00 L664.40,198.00 L665.40,198.00 L666.40,198.00 L667.40,198.00 L668.40,198.00 L669.40,198.00 L670.40,198.00 L671.40,198.00 L672.40,198.00 L673.40,198.00 L674.40,198.00 L675.40,198.00 L676.40,198.00 L677.40,198.00 L678.40,198.00 L679.40,198.00 L680.40,198.00 L681.40,198.00 L682.40,198.00 L683.40,198.00 L684.40,198.00 L685.40,198.00 L686.40,198.00 L687.40,198.00 L688.40,198.00 L689.40,198.00 L690.40,198.00 L691.40,198.00 L692.30,198.00" stroke="#22a3df"/><path d="M692.30,244.00 L693.30,244.00 L694.30,244.00 L695.30,244.00 L696.30,243.96 L697.30,243.90 L698.30,243.79 L699.30,243.65 L700.30,243.46 L701.30,243.22 L702.30,242.91 L703.30,242.51 L704.30,242.02 L705.30,241.41 L706.30,240.66 L707.30,239.77 L708.30,238.71 L709.30,237.49 L710.30,236.09 L711.30,234.52 L712.30,232.77 L713.30,230.86 L714.30,228.80 L715.30,226.61 L716.30,224.31 L717.30,221.93 L718.30,219.50 L719.30,217.05 L720.30,214.63 L721.30,212.28 L722.20,210.25" stroke="#d9536f"/><path d="M722.20,227.54 L723.20,227.55 L724.20,227.19 L725.20,226.47 L726.20,225.41 L727.20,224.02 L728.20,222.36 L729.20,220.58 L730.20,218.76 L731.20,216.92 L732.20,215.09 L733.20,213.28 L734.20,211.51 L735.20,209.81 L736.20,208.19 L737.20,206.66 L738.20,205.26 L739.20,203.98 L740.20,202.85 L741.20,201.88 L742.20,201.08 L743.20,200.45 L744.20,200.01 L745.20,199.76 L746.20,199.70 L747.20,199.84 L748.20,200.17 L749.20,200.68 L750.20,201.38 L751.20,202.25 L752.10,203.17" stroke="#22a3df"/><path d="M752.10,231.23 L753.10,232.25 L754.10,233.10 L755.10,233.78 L756.10,234.28 L757.10,234.58 L758.10,234.70 L759.10,234.62 L760.10,234.35 L761.10,233.89 L762.10,233.25 L763.10,232.43 L764.10,231.44 L765.10,230.30 L766.10,229.01 L767.10,227.59 L768.10,226.06 L769.10,224.42 L770.10,222.71 L771.10,220.94 L772.10,219.13 L773.10,217.29 L774.10,215.46 L775.10,213.64 L776.10,211.86 L777.10,210.14 L778.10,208.50 L779.10,206.96 L780.10,205.53 L781.10,204.22 L782.00,203.17" stroke="#d9536f"/><path d="M782.00,231.23 L783.00,230.05 L784.00,228.74 L785.00,227.29 L786.00,225.74 L787.00,224.09 L788.00,222.36 L789.00,220.58 L790.00,218.76 L791.00,216.92 L792.00,215.09 L793.00,213.28 L794.00,211.51 L795.00,209.81 L796.00,208.19 L797.00,206.66 L798.00,205.26 L799.00,203.98 L800.00,202.85 L801.00,201.88 L802.00,201.08 L803.00,200.45 L804.00,200.01 L805.00,199.76 L806.00,199.70 L807.00,199.84 L808.00,200.17 L809.00,200.68 L810.00,201.38 L811.00,202.25 L811.90,203.17" stroke="#22a3df"/><path d="M811.90,231.23 L812.90,232.25 L813.90,233.10 L814.90,233.78 L815.90,234.28 L816.90,234.58 L817.90,234.70 L818.90,234.62 L819.90,234.35 L820.90,233.89 L821.90,233.25 L822.90,232.43 L823.90,231.44 L824.90,230.30 L825.90,229.01 L826.90,227.59 L827.90,226.06 L828.90,224.42 L829.90,222.71 L830.90,220.94 L831.90,219.13 L832.90,217.29 L833.90,215.46 L834.90,213.64 L835.90,211.86 L836.90,210.14 L837.90,208.50 L838.90,206.96 L839.90,205.53 L840.90,204.22 L841.80,203.17" stroke="#d9536f"/><path d="M841.80,231.23 L842.80,230.05 L843.80,228.74 L844.80,227.29 L845.80,225.74 L846.80,224.09 L847.80,222.36 L848.80,220.58 L849.80,218.76 L850.80,216.92 L851.80,215.09 L852.80,213.28 L853.80,211.51 L854.80,209.81 L855.80,208.19 L856.80,206.66 L857.80,205.26 L858.80,203.98 L859.80,202.85 L860.80,201.88 L861.80,201.08 L862.80,200.45 L863.80,200.01 L864.80,199.76 L865.80,199.70 L866.80,199.84 L867.80,200.17 L868.80,200.68 L869.80,201.38 L870.80,202.25 L871.70,203.17" stroke="#22a3df"/><path d="M871.70,231.23 L872.70,232.25 L873.70,233.10 L874.70,233.78 L875.70,234.28 L876.70,234.58 L877.70,234.70 L878.70,234.62 L879.70,234.35 L880.70,233.89 L881.70,233.25 L882.70,232.43 L883.70,231.44 L884.70,230.30 L885.70,229.01 L886.70,227.59 L887.70,226.06 L888.70,224.42 L889.70,222.71 L890.70,220.94 L891.70,219.13 L892.70,217.29 L893.70,215.46 L894.70,213.64 L895.70,211.86 L896.70,210.14 L897.70,208.50 L898.70,206.96 L899.70,205.53 L900.70,204.22 L901.60,203.17" stroke="#d9536f"/><path d="M901.60,231.23 L902.60,230.05 L903.60,228.74 L904.60,227.29 L905.00,226.68" stroke="#22a3df"/></g>
<path d="M2.8,6.8 C5,2.5 11,0.8 16.3,0.3 L30.2,0.1 C32,0.8 33,2.5 34.9,3.6 C39,6 44,7 47.9,8.7 L49.3,11.1 L40,20.8 L55.4,28.7 L48.9,34.8 C42,33.5 35,32 30.2,32.5 C27,33 25.5,35 24.7,36.2 C23,38.5 21.5,40.5 19,40.8 C17,40.8 16,40 15.5,39 C12,35 9.5,32 9.3,29.7 C8.8,27 9.5,24.5 8.8,23.2 C6,20.5 2,20.5 0.4,19 C1,17 3,15.5 3.2,13.8 C3.5,11 2.5,9 2.8,6.8 Z" transform="translate(156.00,195.20) scale(1.030)" fill="url(#gY)" stroke="#222" stroke-width="1" vector-effect="non-scaling-stroke" opacity="1.00" />
<path d="M596,142.6 L610.5,142.1 C613.5,142.5 615,144.5 615,147.5 C615,149.5 615.2,151 616,151.5 C618,150.5 621,149.5 621.5,148.5 C621.5,147.5 619,149 616.5,151.5 C615,153 614.8,155.5 615.8,156.5 C617,157.8 620,157.8 624,157.2 C628,156.5 631,156.5 632,158.5 C633,161 631.5,164.5 628,168 C625.5,170.5 623,172.5 623.8,172.8 C625,173 628,169 630,165.5 C631,164 630.5,168 629.5,171 C630,174 633,174.5 636,174 L644.6,171.8 L639.2,175.6 L648,174.5" fill="none" stroke="#000" stroke-width="1.9" stroke-linejoin="round"/>
<path d="M674.60,167.40 C679.57,167.65 686.43,167.43 691.40,169.30 C696.37,171.17 701.00,174.57 704.40,178.60 C707.80,182.63 710.42,188.85 711.80,193.50 C713.18,198.15 713.32,201.85 712.70,206.50 C712.08,211.15 710.73,216.13 708.10,221.40 C705.47,226.67 700.00,233.15 696.90,238.10 C693.80,243.05 691.97,247.23 689.50,251.10 C687.03,254.97 684.42,259.28 682.10,261.30 C679.78,263.32 677.62,263.67 675.60,263.20 C673.58,262.73 671.40,261.13 670.00,258.50 C668.60,255.87 667.98,251.42 667.20,247.40 C666.42,243.38 666.85,238.73 665.30,234.40 C663.75,230.07 661.30,225.43 657.90,221.40 C654.50,217.37 648.32,213.93 644.90,210.20 C641.48,206.47 638.80,202.10 637.40,199.00 C636.00,195.90 636.18,194.38 636.50,191.60 C636.82,188.82 637.28,185.40 639.30,182.30 C641.32,179.20 644.88,175.42 648.60,173.00 C652.32,170.58 657.27,168.73 661.60,167.80 C665.93,166.87 669.63,167.15 674.60,167.40Z" fill="url(#gPB)" stroke="#111" stroke-width="1"/>
<text x="650" y="142.3" font-size="12" fill="#222">"mRNA"</text>
<path d="M32,0 C55,0 64,12 64,33 C64,41 58,50 52,63 C46,76 41,84 32,84 C23,84 18,76 12,63 C6,50 0,41 0,33 C0,12 9,0 32,0 Z" transform="translate(310.20,204.50) scale(0.994,1.000)" fill="url(#gP)" stroke="#111" stroke-width="1" vector-effect="non-scaling-stroke" opacity="1.00"/>
<path d="M372,301 Q377,296 382,294.4 L382,364.7 L372,347.8 Z" fill="#00e0e8" stroke="#111" stroke-width="0.8"/>
<rect x="372" y="364.7" width="10" height="72.6" fill="#94c3d3"/>
<path d="M372,448 L376,451.5 L372,455 Z M372,464.3 L382,470 L372,475.5 Z" fill="#a3a33a" stroke="#333" stroke-width="0.5"/>
<g font-size="10.3" font-weight="bold" fill="#111" text-anchor="middle"><text x="198.6" y="254">Regulatory</text><text x="198.6" y="266">Region</text><text x="551.2" y="254">Transcribed</text><text x="551.2" y="266">Region</text></g>
<path d="M2.8,6.8 C5,2.5 11,0.8 16.3,0.3 L30.2,0.1 C32,0.8 33,2.5 34.9,3.6 C39,6 44,7 47.9,8.7 L49.3,11.1 L40,20.8 L55.4,28.7 L48.9,34.8 C42,33.5 35,32 30.2,32.5 C27,33 25.5,35 24.7,36.2 C23,38.5 21.5,40.5 19,40.8 C17,40.8 16,40 15.5,39 C12,35 9.5,32 9.3,29.7 C8.8,27 9.5,24.5 8.8,23.2 C6,20.5 2,20.5 0.4,19 C1,17 3,15.5 3.2,13.8 C3.5,11 2.5,9 2.8,6.8 Z" transform="translate(783.20,323.70) scale(0.940)" fill="url(#gY2)" stroke="#222" stroke-width="1" vector-effect="non-scaling-stroke" opacity="0.42" />
<path d="M2.8,6.8 C5,2.5 11,0.8 16.3,0.3 L30.2,0.1 C32,0.8 33,2.5 34.9,3.6 C39,6 44,7 47.9,8.7 L49.3,11.1 L40,20.8 L55.4,28.7 L48.9,34.8 C42,33.5 35,32 30.2,32.5 C27,33 25.5,35 24.7,36.2 C23,38.5 21.5,40.5 19,40.8 C17,40.8 16,40 15.5,39 C12,35 9.5,32 9.3,29.7 C8.8,27 9.5,24.5 8.8,23.2 C6,20.5 2,20.5 0.4,19 C1,17 3,15.5 3.2,13.8 C3.5,11 2.5,9 2.8,6.8 Z" transform="translate(687.00,443.20) scale(0.920)" fill="url(#gY2)" stroke="#222" stroke-width="1" vector-effect="non-scaling-stroke" opacity="0.36" />
<path d="M32,0 C55,0 64,12 64,33 C64,41 58,50 52,63 C46,76 41,84 32,84 C23,84 18,76 12,63 C6,50 0,41 0,33 C0,12 9,0 32,0 Z" transform="translate(770.20,432.10) scale(0.997,1.000)" fill="url(#gP)" stroke="#111" stroke-width="1" vector-effect="non-scaling-stroke" opacity="1.00"/>
<g fill="#fafafa" stroke="#000" stroke-width="2">
<rect x="10.0" y="271" width="174.6" height="263" rx="5"/>
<rect x="196.0" y="271" width="175.1" height="263" rx="5"/>
<rect x="382.7" y="271" width="175.2" height="263" rx="5"/>
</g>
<g font-weight="bold" font-size="14" fill="#111" text-anchor="middle">
<text x="97.1" y="293.3">Positive Transcription</text><text x="97.6" y="309.7">Factor</text>
<text x="283.8" y="293.3">RNA Polymerase</text>
<text x="469.8" y="293.3">Negative Transcription</text><text x="470.4" y="309.7">Factor</text>
</g>
<g font-weight="bold" font-size="12" fill="#111" text-anchor="middle">
<text x="97.5" y="333.7">Concentration</text><text x="97.4" y="425.1">Affinity</text>
<text x="283.8" y="360.2">Affinity</text>
<text x="470.4" y="333.7">Concentration</text><text x="470" y="425.1">Affinity</text>
</g>
<g font-size="10" fill="#111" text-anchor="middle">
<text x="41.2" y="372.9">None</text><text x="155.4" y="372.9">High</text>
<text x="39.7" y="494.2">Low</text><text x="154.2" y="494.2">High</text>
<text x="226.2" y="425.8">Low</text><text x="340.4" y="425.8">High</text>
<text x="413.7" y="372.9">None</text><text x="528.1" y="372.9">High</text>
<text x="412.2" y="494.2">Low</text><text x="526.6" y="494.2">High</text>
</g>
<path d="M40.8,375.5V391.0 M155.5,375.5V391.0" stroke="#222" stroke-width="1" fill="none"/><rect x="40.8" y="388.5" width="114.7" height="5" fill="#fff" stroke="#222" stroke-width="1"/><rect x="149.3" y="377.6" width="13" height="26" rx="3" fill="#3592be" stroke="#1a1a1a" stroke-width="1"/><path d="M155.8,380.1V401.6" stroke="#fff" stroke-width="1"/>
<path d="M39.2,496.5V512.0 M154.0,496.5V512.0" stroke="#222" stroke-width="1" fill="none"/><rect x="39.2" y="509.5" width="114.8" height="5" fill="#fff" stroke="#222" stroke-width="1"/><rect x="147.5" y="498.6" width="13" height="26" rx="3" fill="#3592be" stroke="#1a1a1a" stroke-width="1"/><path d="M154.0,501.1V522.6" stroke="#fff" stroke-width="1"/>
<path d="M226.0,428.3V443.8 M340.3,428.3V443.8" stroke="#222" stroke-width="1" fill="none"/><rect x="226.0" y="441.3" width="114.3" height="5" fill="#fff" stroke="#222" stroke-width="1"/><rect x="334.1" y="430.4" width="13" height="26" rx="3" fill="#3592be" stroke="#1a1a1a" stroke-width="1"/><path d="M340.6,432.9V454.4" stroke="#fff" stroke-width="1"/>
<path d="M413.9,375.5V391.0 M528.2,375.5V391.0" stroke="#222" stroke-width="1" fill="none"/><rect x="413.9" y="388.5" width="114.3" height="5" fill="#fff" stroke="#222" stroke-width="1"/><rect x="407.8" y="377.6" width="13" height="26" rx="3" fill="#3592be" stroke="#1a1a1a" stroke-width="1"/><path d="M414.3,380.1V401.6" stroke="#fff" stroke-width="1"/>
<path d="M412.4,496.5V512.0 M527.0,496.5V512.0" stroke="#222" stroke-width="1" fill="none"/><rect x="412.4" y="509.5" width="114.6" height="5" fill="#fff" stroke="#222" stroke-width="1"/><rect x="520.8" y="498.6" width="13" height="26" rx="3" fill="#3592be" stroke="#1a1a1a" stroke-width="1"/><path d="M527.3,501.1V522.6" stroke="#fff" stroke-width="1"/>
<path d="M2.8,6.8 C5,2.5 11,0.8 16.3,0.3 L30.2,0.1 C32,0.8 33,2.5 34.9,3.6 C39,6 44,7 47.9,8.7 L49.3,11.1 L40,20.8 L55.4,28.7 L48.9,34.8 C42,33.5 35,32 30.2,32.5 C27,33 25.5,35 24.7,36.2 C23,38.5 21.5,40.5 19,40.8 C17,40.8 16,40 15.5,39 C12,35 9.5,32 9.3,29.7 C8.8,27 9.5,24.5 8.8,23.2 C6,20.5 2,20.5 0.4,19 C1,17 3,15.5 3.2,13.8 C3.5,11 2.5,9 2.8,6.8 Z" transform="translate(86.00,340.80) scale(0.420)" fill="url(#gY)" stroke="#222" stroke-width="1" vector-effect="non-scaling-stroke" opacity="1.00" />
<path d="M2.8,6.8 C5,2.5 11,0.8 16.3,0.3 L30.2,0.1 C32,0.8 33,2.5 34.9,3.6 C39,6 44,7 47.9,8.7 L49.3,11.1 L40,20.8 L55.4,28.7 L48.9,34.8 C42,33.5 35,32 30.2,32.5 C27,33 25.5,35 24.7,36.2 C23,38.5 21.5,40.5 19,40.8 C17,40.8 16,40 15.5,39 C12,35 9.5,32 9.3,29.7 C8.8,27 9.5,24.5 8.8,23.2 C6,20.5 2,20.5 0.4,19 C1,17 3,15.5 3.2,13.8 C3.5,11 2.5,9 2.8,6.8 Z" transform="translate(46.40,446.70) scale(0.430)" fill="url(#gY)" stroke="#222" stroke-width="1" vector-effect="non-scaling-stroke" opacity="1.00" />
<path d="M0.00,7.40 C0.50,6.07 5.25,3.43 6.80,2.20 C8.35,0.97 8.45,0.10 9.30,0.00 C10.15,-0.10 11.08,0.88 11.90,1.60 C12.72,2.32 12.85,3.83 14.20,4.30 C15.55,4.77 18.53,3.85 20.00,4.40 C21.47,4.95 22.70,6.42 23.00,7.60 C23.30,8.78 22.72,10.32 21.80,11.50 C20.88,12.68 18.73,13.83 17.50,14.70 C16.27,15.57 15.57,16.85 14.40,16.70 C13.23,16.55 11.68,14.37 10.50,13.80 C9.32,13.23 8.65,13.03 7.30,13.30 C5.95,13.57 2.98,15.92 2.40,15.40 C1.82,14.88 4.20,11.53 3.80,10.20 C3.40,8.87 -0.50,8.73 0.00,7.40Z" transform="translate(458.5,340.8) scale(1.02)" fill="url(#gR)" stroke="#111" stroke-width="1" vector-effect="non-scaling-stroke"/>
<path d="M0.00,7.40 C0.50,6.07 5.25,3.43 6.80,2.20 C8.35,0.97 8.45,0.10 9.30,0.00 C10.15,-0.10 11.08,0.88 11.90,1.60 C12.72,2.32 12.85,3.83 14.20,4.30 C15.55,4.77 18.53,3.85 20.00,4.40 C21.47,4.95 22.70,6.42 23.00,7.60 C23.30,8.78 22.72,10.32 21.80,11.50 C20.88,12.68 18.73,13.83 17.50,14.70 C16.27,15.57 15.57,16.85 14.40,16.70 C13.23,16.55 11.68,14.37 10.50,13.80 C9.32,13.23 8.65,13.03 7.30,13.30 C5.95,13.57 2.98,15.92 2.40,15.40 C1.82,14.88 4.20,11.53 3.80,10.20 C3.40,8.87 -0.50,8.73 0.00,7.40Z" transform="translate(419,446.8) scale(1.05)" fill="url(#gR)" stroke="#111" stroke-width="1" vector-effect="non-scaling-stroke"/>
<path d="M79.0,455.5 L85.5,450.2 L85.5,453.9 L99.9,453.9 L99.9,450.2 L106.4,455.5 L99.9,460.8 L99.9,457.1 L85.5,457.1 L85.5,460.8 Z" fill="#000"/>
<path d="M257.5,389.1 L264.0,383.8 L264.0,387.5 L278.2,387.5 L278.2,383.8 L284.7,389.1 L278.2,394.4 L278.2,390.7 L264.0,390.7 L264.0,394.4 Z" fill="#000"/>
<path d="M451.7,455.5 L458.2,450.2 L458.2,453.9 L472.6,453.9 L472.6,450.2 L479.1,455.5 L472.6,460.8 L472.6,457.1 L458.2,457.1 L458.2,460.8 Z" fill="#000"/>
<g fill="none" stroke-width="2" stroke-linecap="round"><path d="M117.00,447.10 L117.50,447.15 L118.00,447.29 L118.50,447.53 L119.00,447.86 L119.50,448.27 L120.00,448.77 L120.50,449.34 L121.00,449.99 L121.50,450.69 L122.00,451.46 L122.50,452.26 L123.00,453.11 L123.50,453.98 L124.00,454.87 L124.50,455.77 L125.00,456.66 L125.50,457.54 L126.00,458.40 L126.50,459.23 L127.00,460.01 L127.50,460.74 L128.00,461.41 L128.15,461.60" stroke="#d9536f"/><path d="M128.15,449.40 L128.65,450.05 L129.15,450.77 L129.65,451.54 L130.15,452.35 L130.65,453.20 L131.15,454.07 L131.65,454.96 L132.15,455.86 L132.65,456.75 L133.15,457.63 L133.65,458.49 L134.15,459.31 L134.65,460.08 L135.15,460.81 L135.65,461.47 L136.15,462.07 L136.65,462.59 L137.15,463.03 L137.65,463.38 L138.15,463.65 L138.65,463.82 L139.15,463.90 L139.65,463.88 L140.15,463.76 L140.65,463.55 L141.15,463.25 L141.65,462.86 L142.15,462.39 L142.65,461.84 L142.85,461.60" stroke="#22a3df"/><path d="M142.85,449.40 L143.35,448.82 L143.85,448.32 L144.35,447.89 L144.85,447.56 L145.35,447.31 L145.85,447.16 L146.35,447.10 L146.85,447.14 L147.35,447.27 L147.50,447.33" stroke="#d9536f"/></g><path d="M118.00,447.29V454.16M120.94,449.54V449.91M123.88,447.20V454.66M126.82,448.03V459.73M129.76,451.71V463.19M132.70,456.84V463.71M135.64,461.09V461.46M138.58,456.34V463.80M141.52,451.27V462.97M144.46,447.81V459.29M147.40,447.29V454.16" stroke="#4a4a4a" stroke-width="1.0" fill="none"/><g fill="none" stroke-width="2" stroke-linecap="round"><path d="M117.00,455.95 L117.50,455.05 L118.00,454.16 L118.50,453.28 L119.00,452.43 L119.50,451.61 L120.00,450.84 L120.50,450.12 L121.00,449.47 L121.50,448.88 L122.00,448.36 L122.50,447.93 L123.00,447.59 L123.50,447.33 L124.00,447.17 L124.50,447.10 L125.00,447.13 L125.50,447.25 L126.00,447.47 L126.50,447.78 L127.00,448.18 L127.50,448.66 L128.00,449.22 L128.15,449.40" stroke="#22a3df"/><path d="M128.15,461.60 L128.65,462.18 L129.15,462.68 L129.65,463.11 L130.15,463.44 L130.65,463.69 L131.15,463.84 L131.65,463.90 L132.15,463.86 L132.65,463.73 L133.15,463.50 L133.65,463.18 L134.15,462.77 L134.65,462.29 L135.15,461.72 L135.65,461.08 L136.15,460.38 L136.65,459.62 L137.15,458.82 L137.65,457.98 L138.15,457.11 L138.65,456.22 L139.15,455.32 L139.65,454.43 L140.15,453.54 L140.65,452.68 L141.15,451.86 L141.65,451.07 L142.15,450.33 L142.65,449.66 L142.85,449.40" stroke="#d9536f"/><path d="M142.85,461.60 L143.35,460.95 L143.85,460.23 L144.35,459.46 L144.85,458.65 L145.35,457.80 L145.85,456.93 L146.35,456.04 L146.85,455.14 L147.35,454.25 L147.50,453.98" stroke="#22a3df"/></g>
<g fill="none" stroke-width="2" stroke-linecap="round"><path d="M489.50,447.10 L490.00,447.15 L490.50,447.29 L491.00,447.53 L491.50,447.86 L492.00,448.27 L492.50,448.77 L493.00,449.34 L493.50,449.99 L494.00,450.69 L494.50,451.46 L495.00,452.26 L495.50,453.11 L496.00,453.98 L496.50,454.87 L497.00,455.77 L497.50,456.66 L498.00,457.54 L498.50,458.40 L499.00,459.23 L499.50,460.01 L500.00,460.74 L500.50,461.41 L500.65,461.60" stroke="#d9536f"/><path d="M500.65,449.40 L501.15,450.05 L501.65,450.77 L502.15,451.54 L502.65,452.35 L503.15,453.20 L503.65,454.07 L504.15,454.96 L504.65,455.86 L505.15,456.75 L505.65,457.63 L506.15,458.49 L506.65,459.31 L507.15,460.08 L507.65,460.81 L508.15,461.47 L508.65,462.07 L509.15,462.59 L509.65,463.03 L510.15,463.38 L510.65,463.65 L511.15,463.82 L511.65,463.90 L512.15,463.88 L512.65,463.76 L513.15,463.55 L513.65,463.25 L514.15,462.86 L514.65,462.39 L515.15,461.84 L515.35,461.60" stroke="#22a3df"/><path d="M515.35,449.40 L515.85,448.82 L516.35,448.32 L516.85,447.89 L517.35,447.56 L517.85,447.31 L518.35,447.16 L518.85,447.10 L519.35,447.14 L519.85,447.27 L520.00,447.33" stroke="#d9536f"/></g><path d="M490.50,447.29V454.16M493.44,449.54V449.91M496.38,447.20V454.66M499.32,448.03V459.73M502.26,451.71V463.19M505.20,456.84V463.71M508.14,461.09V461.46M511.08,456.34V463.80M514.02,451.27V462.97M516.96,447.81V459.29M519.90,447.29V454.16" stroke="#4a4a4a" stroke-width="1.0" fill="none"/><g fill="none" stroke-width="2" stroke-linecap="round"><path d="M489.50,455.95 L490.00,455.05 L490.50,454.16 L491.00,453.28 L491.50,452.43 L492.00,451.61 L492.50,450.84 L493.00,450.12 L493.50,449.47 L494.00,448.88 L494.50,448.36 L495.00,447.93 L495.50,447.59 L496.00,447.33 L496.50,447.17 L497.00,447.10 L497.50,447.13 L498.00,447.25 L498.50,447.47 L499.00,447.78 L499.50,448.18 L500.00,448.66 L500.50,449.22 L500.65,449.40" stroke="#22a3df"/><path d="M500.65,461.60 L501.15,462.18 L501.65,462.68 L502.15,463.11 L502.65,463.44 L503.15,463.69 L503.65,463.84 L504.15,463.90 L504.65,463.86 L505.15,463.73 L505.65,463.50 L506.15,463.18 L506.65,462.77 L507.15,462.29 L507.65,461.72 L508.15,461.08 L508.65,460.38 L509.15,459.62 L509.65,458.82 L510.15,457.98 L510.65,457.11 L511.15,456.22 L511.65,455.32 L512.15,454.43 L512.65,453.54 L513.15,452.68 L513.65,451.86 L514.15,451.07 L514.65,450.33 L515.15,449.66 L515.35,449.40" stroke="#d9536f"/><path d="M515.35,461.60 L515.85,460.95 L516.35,460.23 L516.85,459.46 L517.35,458.65 L517.85,457.80 L518.35,456.93 L518.85,456.04 L519.35,455.14 L519.85,454.25 L520.00,453.98" stroke="#22a3df"/></g>
<g fill="none" stroke-width="1.6" stroke-linecap="round"><path d="M295.50,382.10 L296.00,382.17 L296.50,382.36 L297.00,382.69 L297.50,383.13 L298.00,383.69 L298.50,384.35 L299.00,385.10 L299.50,385.92 L300.00,386.80 L300.50,387.72 L301.00,388.66 L301.50,389.61 L302.00,390.55 L302.50,391.45 L303.00,392.30 L303.50,393.09 L304.00,393.79 L304.12,393.95" stroke="#d9536f"/><path d="M304.12,383.85 L304.62,384.53 L305.12,385.30 L305.62,386.13 L306.12,387.03 L306.62,387.95 L307.12,388.90 L307.62,389.85 L308.12,390.77 L308.62,391.67 L309.12,392.50 L309.62,393.27 L310.12,393.95 L310.62,394.54 L311.12,395.01 L311.62,395.37 L312.12,395.60 L312.62,395.70 L313.12,395.66 L313.62,395.50 L314.12,395.20 L314.62,394.79 L315.12,394.26 L315.38,393.95" stroke="#22a3df"/><path d="M315.38,383.85 L315.88,383.26 L316.38,382.79 L316.88,382.43 L317.38,382.20 L317.88,382.10 L318.38,382.14 L318.88,382.30 L319.38,382.60 L319.88,383.01 L320.38,383.54 L320.88,384.18 L321.38,384.90 L321.88,385.71 L322.38,386.57 L322.88,387.49 L323.38,388.43 L323.88,389.37 L324.38,390.31 L324.88,391.23 L325.38,392.09 L325.88,392.90 L326.38,393.62 L326.62,393.95" stroke="#d9536f"/><path d="M326.62,383.85 L327.12,384.53 L327.62,385.30 L328.12,386.13 L328.62,387.03 L329.12,387.95 L329.62,388.90 L330.12,389.85 L330.62,390.77 L331.12,391.67 L331.62,392.50 L332.12,393.27 L332.62,393.95 L333.12,394.54 L333.62,395.01 L334.12,395.37 L334.62,395.60 L335.12,395.70 L335.62,395.66 L336.12,395.50 L336.62,395.20 L337.12,394.79 L337.62,394.26 L337.88,393.95" stroke="#22a3df"/><path d="M337.88,383.85 L338.38,383.26 L338.88,382.79 L339.38,382.43 L339.88,382.20 L340.38,382.10 L340.88,382.14 L341.38,382.30 L341.88,382.60 L342.38,383.01 L342.88,383.54 L343.38,384.18 L343.88,384.90 L344.00,385.10" stroke="#d9536f"/></g><path d="M296.50,382.36V387.72M298.75,384.01V384.71M301.00,382.17V388.66M303.25,382.90V392.70M305.50,385.92V395.29M307.75,390.08V395.44M310.00,393.09V393.79M312.25,389.14V395.63M314.50,385.10V394.90M316.75,382.51V391.88M319.00,382.36V387.72M321.25,384.01V384.71M323.50,382.17V388.66M325.75,382.90V392.70M328.00,385.92V395.29M330.25,390.08V395.44M332.50,393.09V393.79M334.75,389.14V395.63M337.00,385.10V394.90M339.25,382.51V391.88M341.50,382.36V387.72M343.75,384.01V384.71" stroke="#4a4a4a" stroke-width="0.7" fill="none"/><g fill="none" stroke-width="1.6" stroke-linecap="round"><path d="M295.50,389.61 L296.00,388.66 L296.50,387.72 L297.00,386.80 L297.50,385.92 L298.00,385.10 L298.50,384.35 L299.00,383.69 L299.50,383.13 L300.00,382.69 L300.50,382.36 L301.00,382.17 L301.50,382.10 L302.00,382.17 L302.50,382.36 L303.00,382.69 L303.50,383.13 L304.00,383.69 L304.12,383.85" stroke="#22a3df"/><path d="M304.12,393.95 L304.62,394.54 L305.12,395.01 L305.62,395.37 L306.12,395.60 L306.62,395.70 L307.12,395.66 L307.62,395.50 L308.12,395.20 L308.62,394.79 L309.12,394.26 L309.62,393.62 L310.12,392.90 L310.62,392.09 L311.12,391.23 L311.62,390.31 L312.12,389.37 L312.62,388.43 L313.12,387.49 L313.62,386.57 L314.12,385.71 L314.62,384.90 L315.12,384.18 L315.38,383.85" stroke="#d9536f"/><path d="M315.38,393.95 L315.88,393.27 L316.38,392.50 L316.88,391.67 L317.38,390.77 L317.88,389.85 L318.38,388.90 L318.88,387.95 L319.38,387.03 L319.88,386.13 L320.38,385.30 L320.88,384.53 L321.38,383.85 L321.88,383.26 L322.38,382.79 L322.88,382.43 L323.38,382.20 L323.88,382.10 L324.38,382.14 L324.88,382.30 L325.38,382.60 L325.88,383.01 L326.38,383.54 L326.62,383.85" stroke="#22a3df"/><path d="M326.62,393.95 L327.12,394.54 L327.62,395.01 L328.12,395.37 L328.62,395.60 L329.12,395.70 L329.62,395.66 L330.12,395.50 L330.62,395.20 L331.12,394.79 L331.62,394.26 L332.12,393.62 L332.62,392.90 L333.12,392.09 L333.62,391.23 L334.12,390.31 L334.62,389.37 L335.12,388.43 L335.62,387.49 L336.12,386.57 L336.62,385.71 L337.12,384.90 L337.62,384.18 L337.88,383.85" stroke="#d9536f"/><path d="M337.88,393.95 L338.38,393.27 L338.88,392.50 L339.38,391.67 L339.88,390.77 L340.38,389.85 L340.88,388.90 L341.38,387.95 L341.88,387.03 L342.38,386.13 L342.88,385.30 L343.38,384.53 L343.88,383.85 L344.00,383.69" stroke="#22a3df"/></g>
<path d="M2.8,6.8 C5,2.5 11,0.8 16.3,0.3 L30.2,0.1 C32,0.8 33,2.5 34.9,3.6 C39,6 44,7 47.9,8.7 L49.3,11.1 L40,20.8 L55.4,28.7 L48.9,34.8 C42,33.5 35,32 30.2,32.5 C27,33 25.5,35 24.7,36.2 C23,38.5 21.5,40.5 19,40.8 C17,40.8 16,40 15.5,39 C12,35 9.5,32 9.3,29.7 C8.8,27 9.5,24.5 8.8,23.2 C6,20.5 2,20.5 0.4,19 C1,17 3,15.5 3.2,13.8 C3.5,11 2.5,9 2.8,6.8 Z" transform="translate(307.00,380.00) scale(0.420)" fill="url(#gY)" stroke="#222" stroke-width="1" vector-effect="non-scaling-stroke" opacity="1.00" />
<path d="M32,0 C54,0 64,14 64,34 C64,48 57,60 51,72 C47,80 41,84 32,84 C23,84 17,80 13,72 C7,60 0,48 0,34 C0,14 10,0 32,0 Z" transform="translate(222.2,371.9) scale(0.41,0.408)" fill="url(#gP)" stroke="#111" stroke-width="1" vector-effect="non-scaling-stroke"/>
<circle cx="683.7" cy="466.6" r="19.9" fill="url(#rimPause)"/><circle cx="683.7" cy="466.6" r="18.2" fill="#9fd2fb" filter="url(#bl)"/>
<rect x="677.8" y="456.7" width="3.9" height="20" fill="#000"/><rect x="686.1" y="456.7" width="3.9" height="20" fill="#000"/>
<circle cx="726.4" cy="466.7" r="13" fill="url(#rimStep)"/><circle cx="726.4" cy="466.7" r="11.6" fill="#e2e2e2" filter="url(#bl)"/>
<rect x="721.1" y="461.2" width="1.9" height="11" fill="#999"/><path d="M725,461.2 L733.3,466.7 L725,472.2 Z" fill="#999"/>
<rect x="569" y="506" width="15.5" height="15.5" rx="3" fill="#fff" stroke="#111" stroke-width="2"/>
<path d="M572,512.3 L577.3,517.7 L587.3,507.3" fill="none" stroke="#000" stroke-width="3.2" stroke-linecap="square"/>
<text x="593" y="519.7" font-size="15.7" fill="#111">Negative Transcription Factor</text>
<circle cx="869.7" cy="514" r="21.1" fill="url(#rimReset)"/><circle cx="869.7" cy="514" r="19.3" fill="#f7961f" filter="url(#bl)"/>
<path d="M874.81,504.15 A11.1,11.1 0 1 0 880.67,513.18" fill="none" stroke="#fff" stroke-width="4.6"/>
<path d="M878.8,505.6 L885.3,511.4 L874.6,513.2 Z" fill="#fff"/>
<rect x="0" y="544" width="900" height="47" fill="#000"/>
<text x="11" y="574.6" font-size="18.7" fill="#eee">Gene Expression Essentials</text>
<path d="M315.3,567.9 L327.9,557.6 L340.5,567.9" fill="none" stroke="#fff" stroke-width="3.1" stroke-linecap="round"/><path d="M333.8,556.2 H337.6 V563.5 L333.8,560.4 Z" fill="#fff"/><path d="M317.8,579 V569.2 L327.8,561.2 L337.6,569.2 V579 H329.9 V572.2 H326.1 V579 Z" fill="#fff"/>
<rect x="372" y="545.7" width="43" height="29.3" fill="#5a6a73"/>
<path d="M372.5,566.4 H414.5" stroke="#7a6078" stroke-width="1.4"/><rect x="379.8" y="565.1" width="31.4" height="2.6" fill="#b86a30"/><path d="M380,566.4 h31" stroke="#d58a3a" stroke-width="1" stroke-dasharray="2,1"/>
<path d="M388.1,555.1 L398.2,559" stroke="#2a3035" stroke-width="0.7"/><path d="M391,553.5 Q393,551.5 395.5,552.5 L395.8,560.2 H390.8 Z" fill="#9a9025"/><circle cx="395.5" cy="552.2" r="0.9" fill="#c05a40"/>
<text x="393.2" y="586.5" font-size="12" fill="#8a8a8a" text-anchor="middle">Expression</text>
<svg x="453" y="545" width="43.5" height="30" viewBox="453 545 43.5 30" overflow="hidden"><rect x="453" y="545" width="43.5" height="30" fill="#aac9da"/>
<rect x="453" y="559" width="35" height="7" fill="#f6a04e"/>
<path d="M451,562.5 q2.5,-3 5,0 t5,0 t5,0 t5,0 t5,0 t5,0 t5,0 t5,0 t5,0 t5,0" fill="none" stroke="#d9536f" stroke-width="1"/><path d="M453.5,562.5 q2.5,3 5,0 t5,0 t5,0 t5,0 t5,0 t5,0 t5,0 t5,0 t5,0 t5,0" fill="none" stroke="#22a3df" stroke-width="1"/>
<path d="M466,552 l3,2 l1,1 l2,1" fill="none" stroke="#000" stroke-width="0.8"/>
<path d="M469.5,557 Q474,553 479.5,555.5 Q481,561 477,567.5 Q475.5,569.5 474.5,566 Q472,561 469.5,557 Z" fill="#00c4cf" stroke="#113" stroke-width="0.5"/></svg>
<text x="474.8" y="586.6" font-size="12" fill="#f2e600" text-anchor="middle">mRNA</text>
<path d="M538.1,552.1 Q537.0,550.6 535.2,550.3M534.2,556.8 Q535.4,555.3 535.1,553.5M538.0,568.6 Q537.3,566.9 535.5,566.3M533.0,568.7 Q534.3,570.0 536.2,570.0M537.8,548.8 Q539.4,547.8 539.7,546.0M540.9,553.0 Q540.7,551.2 539.2,550.1M538.2,554.7 Q539.9,555.4 541.6,554.6M540.7,557.6 Q540.1,559.4 541.1,561.0M540.8,560.8 Q539.0,561.2 538.1,562.8M539.9,567.7 Q541.5,566.7 541.9,564.9M540.4,569.4 Q538.6,569.0 537.0,570.0M543.4,547.2 Q544.4,548.7 546.3,548.9M542.8,551.1 Q543.5,552.8 545.3,553.4M546.9,557.7 Q545.0,557.5 543.7,558.8M544.7,564.5 Q544.3,562.7 542.6,561.8M543.7,564.7 Q542.7,566.2 543.3,568.0M544.5,572.0 Q546.2,571.5 547.0,569.8M544.8,575.2 Q544.3,573.4 542.7,572.6M548.0,546.8 Q547.2,548.4 547.9,550.2M548.2,550.2 Q549.4,551.6 551.2,551.7M549.3,556.3 Q548.4,554.7 546.6,554.3M550.4,558.6 Q548.6,558.0 547.0,559.0M548.2,562.0 Q548.6,563.9 550.2,564.8M549.4,565.6 Q549.4,567.4 550.7,568.7M548.0,571.7 Q549.9,571.9 551.2,570.7M548.6,573.3 Q549.5,574.9 551.3,575.3M552.8,550.1 Q553.0,548.2 551.8,546.8M553.3,550.3 Q552.1,551.7 552.4,553.6M554.1,560.1 Q553.3,558.4 551.5,557.9M551.2,563.4 Q552.8,564.3 554.6,563.7M551.5,568.8 Q552.1,570.6 553.8,571.3M554.1,576.3 Q553.8,574.5 552.2,573.5M556.8,547.3 Q558.3,548.4 560.2,548.0M555.1,552.5 Q556.9,552.9 558.4,551.7M557.0,557.1 Q557.5,555.3 556.5,553.7M558.3,564.9 Q558.9,563.1 558.0,561.5M559.5,565.7 Q557.9,566.6 557.5,568.5M560.0,570.3 Q558.1,570.4 557.0,571.9M560.0,576.0 Q559.3,574.3 557.6,573.6M560.7,546.8 Q561.8,548.3 563.7,548.5M563.1,554.0 Q563.6,552.2 562.6,550.6M563.8,554.9 Q561.9,554.9 560.6,556.2M561.7,557.8 Q563.2,558.8 565.1,558.4M563.3,564.3 Q563.5,562.4 562.2,561.1M562.6,565.0 Q561.7,566.7 562.4,568.4M560.7,568.3 Q560.5,570.1 561.7,571.5M563.2,574.3 Q561.4,574.2 560.1,575.5M567.5,545.5 Q567.3,547.4 568.6,548.8M565.6,553.1 Q567.3,552.5 568.1,550.8M565.6,554.0 Q566.1,555.8 567.8,556.5M567.4,561.2 Q567.7,559.4 566.6,557.9M569.8,561.7 Q567.9,561.5 566.6,562.8M567.6,567.1 Q567.0,565.4 565.2,564.7M565.3,570.1 Q567.1,570.7 568.7,569.7M574.0,547.3 Q572.8,545.9 570.9,545.9M570.7,557.9 Q572.1,559.1 574.0,558.9M572.8,564.0 Q572.5,562.2 570.9,561.2M571.8,565.8 Q571.6,567.7 572.8,569.0M571.7,572.8 Q570.7,574.4 571.2,576.2M577.4,550.5 Q575.6,550.9 574.7,552.6M578.8,558.9 Q576.9,558.6 575.5,559.8M577.9,564.2 Q576.6,562.8 574.8,562.8M578.6,566.7 Q576.8,566.3 575.3,567.5M575.7,571.3 Q577.1,570.0 577.1,568.2" stroke="#5e8c22" stroke-width="1.3" fill="none" stroke-linecap="round"/>
<text x="556" y="586.6" font-size="11.8" fill="#8a8a8a" text-anchor="middle">Multiple Cells</text>
<path fill-rule="evenodd" fill="#66ccf5" d="M780,556.3 H794.5 C799.2,556.3 801.7,559.6 801.7,565.6 C801.7,571.6 798.8,575.2 794.5,575.2 H786.9 V583.5 H780 Z M786.9,561.4 H792.3 C794.2,561.4 795.1,563 795.1,565.7 C795.1,568.4 794.2,570.1 792.3,570.1 H786.9 Z"/>
<path fill="#66ccf5" d="M826.9,556.3 H867.6 V562.5 H860 V583.5 H852.7 V562.5 H833.8 V567.2 H844 V573.4 H833.8 V577.4 H845.5 V583.5 H826.9 Z"/>
<path fill="#ffe100" d="M804,556.3 H814 L815.4,560.8 L809.1,583.5 H804 Z M816.7,583.5 C816.7,575 816.5,569 817.6,565.5 C818.3,563.4 819.6,563.2 820.6,563.4 C822.3,563.9 823.2,566 823.3,570 V583.5 Z M814.5,553.7 L825.1,548.6 L819.6,557.6 L818.6,554.8 Z"/>
<circle cx="864.7" cy="580.6" r="2.5" fill="none" stroke="#3d6f88" stroke-width="0.8"/>
<g fill="#fff"><circle cx="880.8" cy="560.3" r="2.8"/><circle cx="880.8" cy="570.4" r="2.8"/><circle cx="880.8" cy="580.8" r="2.8"/></g>
</svg></body></html>
